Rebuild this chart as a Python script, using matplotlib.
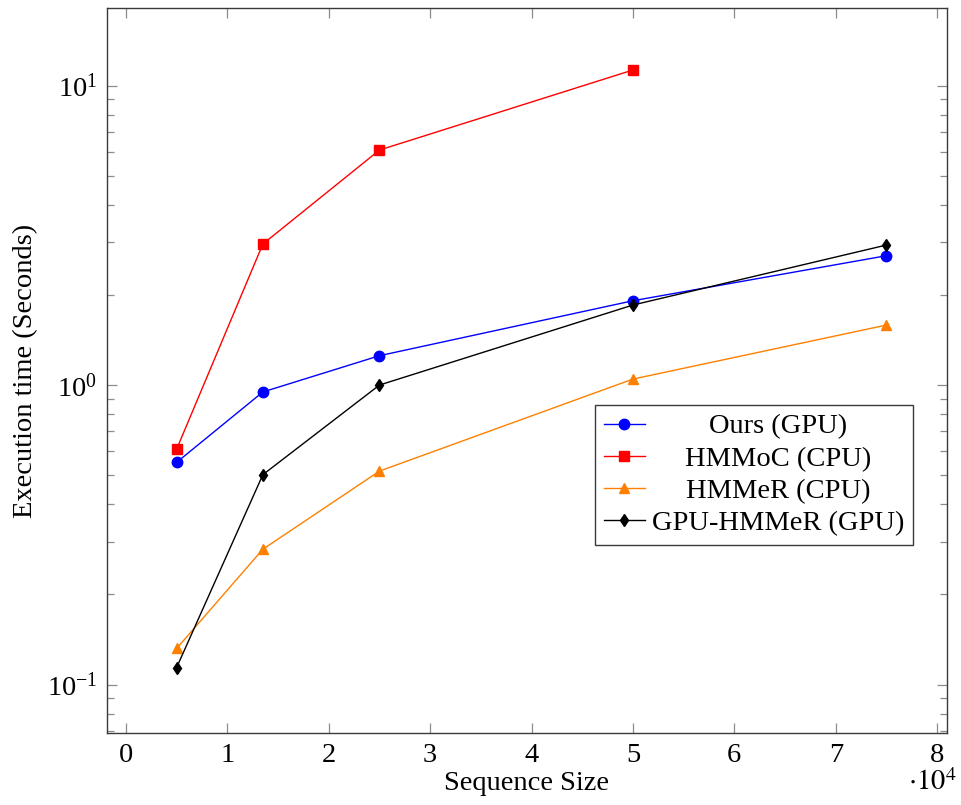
import matplotlib
matplotlib.use("Agg")
import matplotlib.pyplot as plt
from matplotlib.ticker import LogLocator, NullFormatter, FixedLocator

# Sequence sizes (number of residues)
seq_sizes = [5000, 13500, 25000, 50000, 75000]
seq_sizes_hmmoc = [5000, 13500, 25000, 50000]

# Execution times in seconds
ours_gpu = [0.552, 0.948, 1.253, 1.912, 2.703]
hmmoc_cpu = [0.611, 2.957, 6.09, 11.27]
hmmer_cpu = [0.132, 0.283, 0.516, 1.047, 1.586]
gpu_hmmer = [0.114, 0.502, 1.0, 1.85, 2.934]

x_ticks = [0, 1, 2, 3, 4, 5, 6, 7, 8]

plt.rcParams["font.family"] = ["Liberation Serif", "DejaVu Serif"]
plt.rcParams["mathtext.fontset"] = "stix"

FS = 20.5

fig = plt.figure(figsize=(9.61, 8.05), dpi=100)
ax = fig.add_axes([107 / 961, 1 - 733 / 805, (947 - 107) / 961, (733 - 8) / 805])

scale = 1e4
def sc(v):
    return [s / scale for s in v]

ax.plot(sc(seq_sizes), ours_gpu, color="#0000ff", lw=1, marker="o", ms=7.5,
        label="Ours (GPU)")
ax.plot(sc(seq_sizes_hmmoc), hmmoc_cpu, color="#ff0000", lw=1, marker="s", ms=7.5,
        label="HMMoC (CPU)")
ax.plot(sc(seq_sizes), hmmer_cpu, color="#ff8000", lw=1, marker="^", ms=7,
        label="HMMeR (CPU)")
ax.plot(sc(seq_sizes), gpu_hmmer, color="black", lw=1, marker="d", ms=6.5,
        label="GPU-HMMeR (GPU)")

ax.set_yscale("log")
ax.set_xlim(-0.187, 8.097)
ax.set_ylim(0.0689, 18.15)

ax.xaxis.set_major_locator(FixedLocator(x_ticks))
ax.set_xticklabels([str(t) for t in x_ticks])
ax.yaxis.set_major_locator(LogLocator(base=10, numticks=10))
ax.yaxis.set_minor_locator(LogLocator(base=10, subs=range(2, 10), numticks=20))
ax.yaxis.set_minor_formatter(NullFormatter())

ax.tick_params(which="both", direction="in", top=True, right=True,
               color="#8c8c8c", labelsize=FS, width=0.9)
ax.tick_params(which="major", length=7, pad=7)
ax.tick_params(which="minor", length=5)
for sp in ax.spines.values():
    sp.set_color("#3a3a3a")
    sp.set_linewidth(1.0)

ax.set_xlabel("Sequence Size", fontsize=FS, labelpad=2)
ax.set_ylabel("Execution time (Seconds)", fontsize=FS, labelpad=6)
fig.text(932 / 961, 1 - 783 / 805, r"$\cdot10^{4}$", fontsize=FS,
         ha="center", va="center")

leg = ax.legend(loc="upper right", bbox_to_anchor=(913 / 961, 1 - 405 / 805),
                bbox_transform=fig.transFigure, borderaxespad=0, fancybox=False,
                framealpha=1, edgecolor="#3a3a3a", fontsize=FS, handlelength=1.45,
                handletextpad=0.25, labelspacing=0.22, borderpad=0.3)
leg.get_frame().set_linewidth(1.0)

# centre the legend labels within their column
fig.canvas.draw()
renderer = fig.canvas.get_renderer()
widths = [t.get_window_extent(renderer).width for t in leg.get_texts()]
wmax = max(widths)
for t, w in zip(leg.get_texts(), widths):
    t.set_x((wmax - w) / 2)

fig.savefig("out.png", dpi=100)
